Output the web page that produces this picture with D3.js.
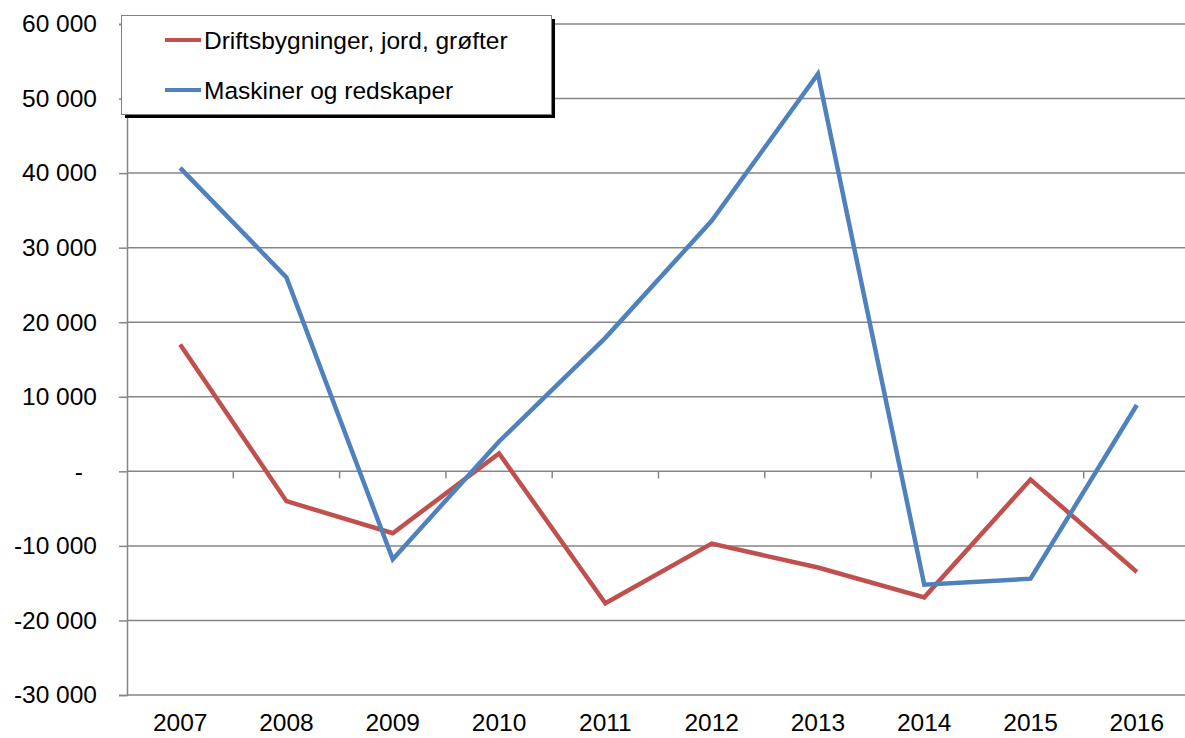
<!DOCTYPE html>
<html>
<head>
<meta charset="utf-8">
<script src="https://cdn.jsdelivr.net/npm/d3@7"></script>
<style>
  body { margin: 0; background: #fff; }
  svg text { font-family: "Liberation Sans", Arial, sans-serif; fill: #000; }
  .axis path, .axis line { stroke: #868686; }
</style>
</head>
<body>
<div id="chart"></div>
<script>

var years = ["2007", "2008", "2009", "2010", "2011", "2012", "2013", "2014", "2015", "2016"];
var drifts = [17000, -4000, -8300, 2400, -17700, -9700, -12900, -16900, -1100, -13500];
var maskiner = [40700, 26000, -11800, 4000, 17900, 33600, 53300, -15200, -14400, 8900];
var yTicks = [-30000, -20000, -10000, 0, 10000, 20000, 30000, 40000, 50000, 60000];

var seriesNames = ["Driftsbygninger, jord, grøfter", "Maskiner og redskaper"];
var seriesColors = ["#c0504d", "#4f81bd"];

var width = 1185, height = 738;

var svg = d3.select("#chart")
    .append("svg")
    .attr("width", width)
    .attr("height", height);

var xScale = d3.scaleBand()
    .domain(years)
    .range([127, 1190]);

var yScale = d3.scaleLinear()
    .domain([-30000, 60000])
    .range([695, 24]);

var fmt = function (d) {
    if (d === 0) return "-";
    return d3.format(",")(d).replace(/,/g, " ").replace("−", "-");
};

// gridlines
svg.append("g")
    .selectAll("line")
    .data(yTicks).enter()
    .append("line")
    .attr("x1", 127)
    .attr("x2", 1190)
    .attr("y1", function (d) { return yScale(d); })
    .attr("y2", function (d) { return yScale(d); })
    .attr("stroke", "#868686")
    .attr("stroke-width", 1.5);

// y axis
var yAxis = d3.axisLeft(yScale).tickValues(yTicks).tickSize(8).tickPadding(22).tickFormat(fmt);
var gy = svg.append("g")
    .attr("class", "axis")
    .attr("transform", "translate(127,0)")
    .call(yAxis);
gy.select(".domain").attr("stroke-width", 1.5);
gy.selectAll(".tick line").attr("stroke-width", 1.5);
gy.selectAll(".tick text")
    .style("font-size", "24.5px")
    .attr("dx", function (d) { return d === 0 ? -14 : 0; });

// x axis along zero, ticks at category boundaries
var boundaries = years.slice(1).map(function (y) { return xScale(y); });
svg.append("g")
    .selectAll("line")
    .data(boundaries).enter()
    .append("line")
    .attr("x1", function (d) { return d; })
    .attr("x2", function (d) { return d; })
    .attr("y1", yScale(0))
    .attr("y2", yScale(0) + 7)
    .attr("stroke", "#868686")
    .attr("stroke-width", 1.5);

svg.append("g")
    .selectAll("text")
    .data(years).enter()
    .append("text")
    .attr("x", function (d) { return xScale(d) + xScale.bandwidth() / 2; })
    .attr("y", 731)
    .attr("text-anchor", "middle")
    .style("font-size", "24.5px")
    .text(function (d) { return d; });

// lines
var line = d3.line()
    .x(function (d, i) { return xScale(years[i]) + xScale.bandwidth() / 2; })
    .y(function (d) { return yScale(d); });

[drifts, maskiner].forEach(function (vals, i) {
    svg.append("path")
        .datum(vals)
        .attr("fill", "none")
        .attr("stroke", seriesColors[i])
        .attr("stroke-width", 4.5)
        .attr("stroke-linejoin", "miter")
        .attr("d", line);
});

// legend
var lg = svg.append("g");
lg.append("rect")
    .attr("x", 125).attr("y", 19)
    .attr("width", 430).attr("height", 99)
    .attr("fill", "#000");
lg.append("rect")
    .attr("x", 121.5).attr("y", 15.5)
    .attr("width", 430).attr("height", 99)
    .attr("fill", "#fff")
    .attr("stroke", "#808080")
    .attr("stroke-width", 1);

seriesNames.forEach(function (name, i) {
    var y = 40 + i * 50;
    lg.append("line")
        .attr("x1", 165).attr("x2", 201)
        .attr("y1", y).attr("y2", y)
        .attr("stroke", seriesColors[i])
        .attr("stroke-width", 4);
    lg.append("text")
        .attr("x", 204)
        .attr("y", y + 9)
        .style("font-size", "24.5px")
        .text(name);
});

</script>
</body>
</html>
